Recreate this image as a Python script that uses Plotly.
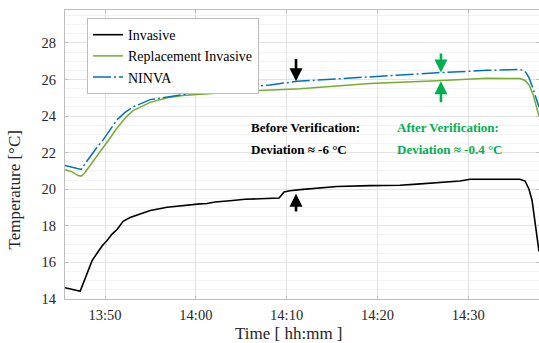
import plotly.graph_objects as go

DAY = "2020-01-01 "

# Invasive (black)
inv_t = ["13:45:35", "13:46:22", "13:47:02", "13:47:15", "13:47:28", "13:47:48", "13:48:08", "13:48:34",
         "13:49:07", "13:49:40", "13:50:13", "13:50:46", "13:51:19", "13:51:59", "13:52:45", "13:53:31",
         "13:54:58", "13:56:50", "13:58:35", "14:00:28", "14:01:14", "14:02:07", "14:03:46", "14:05:25",
         "14:07:04", "14:08:43", "14:09:10", "14:09:43", "14:10:22", "14:11:29", "14:13:41", "14:15:33",
         "14:19:11", "14:22:29", "14:24:22", "14:26:53", "14:29:06", "14:30:12", "14:33:30", "14:35:42",
         "14:36:16", "14:36:42", "14:37:02", "14:37:28", "14:37:48"]
inv_v = [14.62, 14.55, 14.45, 14.42, 14.7, 15.1, 15.6, 16.1,
         16.5, 16.9, 17.2, 17.55, 17.8, 18.25, 18.45, 18.6,
         18.84, 19.02, 19.12, 19.2, 19.22, 19.3, 19.37, 19.45,
         19.48, 19.5, 19.52, 19.85, 19.92, 19.98, 20.05, 20.15,
         20.2, 20.22, 20.28, 20.35, 20.45, 20.55, 20.56, 20.55,
         20.45, 20.0, 19.4, 17.8, 16.6]

# Replacement Invasive (green)
rep_t = ["13:45:35", "13:46:22", "13:47:02", "13:47:22", "13:47:41", "13:48:21", "13:49:07", "13:49:40",
         "13:50:33", "13:51:19", "13:52:25", "13:53:05", "13:54:58", "13:56:50", "13:58:35", "14:00:28",
         "14:03:46", "14:07:04", "14:11:29", "14:19:11", "14:26:34", "14:32:04", "14:35:42", "14:36:16",
         "14:36:42", "14:37:08", "14:37:28", "14:37:48"]
rep_v = [21.07, 20.95, 20.75, 20.72, 20.85, 21.3, 21.8, 22.15,
         22.8, 23.35, 24.0, 24.3, 24.75, 25.0, 25.12, 25.2,
         25.32, 25.4, 25.5, 25.78, 25.93, 26.07, 26.05, 25.95,
         25.7, 25.2, 24.6, 24.0]

# NINVA (blue)
nin_t = ["13:45:35", "13:46:22", "13:47:02", "13:47:22", "13:47:48", "13:48:21", "13:49:07", "13:49:47",
         "13:50:33", "13:51:19", "13:52:12", "13:53:05", "13:54:58", "13:56:50", "13:58:35", "14:02:20",
         "14:08:10", "14:11:09", "14:19:11", "14:26:34", "14:32:04", "14:35:42", "14:36:16", "14:36:42",
         "14:37:08", "14:37:28", "14:37:48"]
nin_v = [21.3, 21.2, 21.1, 21.08, 21.4, 21.8, 22.3, 22.7,
         23.25, 23.8, 24.2, 24.5, 24.9, 25.05, 25.18, 25.45,
         25.7, 25.9, 26.15, 26.37, 26.5, 26.55, 26.45, 26.1,
         25.5, 25.0, 24.5]

x_ticks = ["13:50", "14:00", "14:10", "14:20", "14:30"]
y_ticks = [14, 16, 18, 20, 22, 24, 26, 28]

FONT = "Liberation Serif"
GREEN_TXT = "#00b050"

fig = go.Figure()
fig.add_trace(go.Scatter(x=[DAY + t for t in inv_t], y=inv_v, mode="lines", name="Invasive",
                         line=dict(color="#000000", width=1.6)))
fig.add_trace(go.Scatter(x=[DAY + t for t in rep_t], y=rep_v, mode="lines", name="Replacement Invasive",
                         line=dict(color="#77ac30", width=1.5)))
fig.add_trace(go.Scatter(x=[DAY + t for t in nin_t], y=nin_v, mode="lines", name="NINVA",
                         line=dict(color="#0072bd", width=1.5, dash="18px,3px,2px,3px")))

def arrow(t, y_tip, y_tail, color):
    fig.add_annotation(x=DAY + t, y=y_tip, ax=DAY + t, ay=y_tail, xref="x", yref="y",
                       axref="x", ayref="y", showarrow=True, arrowhead=2, arrowsize=1,
                       arrowwidth=2.6, arrowcolor=color, text="")

arrow("14:11:02", 25.9, 27.2, "#000000")
arrow("14:11:02", 19.75, 18.7, "#000000")
arrow("14:27:00", 26.38, 27.5, GREEN_TXT)
arrow("14:27:00", 25.9, 24.68, GREEN_TXT)

def label(t, y, text, color):
    fig.add_annotation(x=DAY + t, y=y, xref="x", yref="y", text="<b>" + text + "</b>",
                       showarrow=False, xanchor="left", yanchor="middle",
                       font=dict(family=FONT, size=13, color=color))

label("14:05:52", 23.37, "Before Verification:", "#000000")
label("14:05:52", 22.2, "Deviation ≈ -6 °C", "#000000")
label("14:21:56", 23.37, "After Verification:", GREEN_TXT)
label("14:21:56", 22.2, "Deviation ≈ -0.4 °C", GREEN_TXT)

# Axis titles
fig.add_annotation(text="Time [ hh:mm ]", xref="paper", yref="paper", x=0.4726, y=-0.12,
                   showarrow=False, xanchor="center", yanchor="middle", borderpad=0,
                   font=dict(family=FONT, size=17, color="#262626"))
fig.add_annotation(text="Temperature [°C]", xref="paper", yref="paper", x=-0.1076, y=0.379,
                   showarrow=False, xanchor="center", yanchor="middle", textangle=-90,
                   font=dict(family=FONT, size=17, color="#262626"))

fig.update_xaxes(range=[DAY + "13:45:35", DAY + "14:37:48"],
                 tickvals=[DAY + t for t in x_ticks], ticktext=x_ticks,
                 showgrid=True, gridcolor="#e3e3e3", gridwidth=1,
                 showline=True, linecolor="#bdbdbd", linewidth=1, mirror="ticks",
                 ticks="inside", ticklen=3, tickcolor="#bdbdbd",
                 tickfont=dict(family=FONT, size=14.5, color="#262626"),
                 ticklabelstandoff=3, zeroline=False)
fig.update_yaxes(range=[14, 29.8], tickvals=y_ticks,
                 showgrid=True, gridcolor="#e3e3e3", gridwidth=1,
                 minor=dict(dtick=0.5, showgrid=True, gridcolor="#f3f3f3", gridwidth=1),
                 showline=True, linecolor="#bdbdbd", linewidth=1, mirror="ticks",
                 ticks="inside", ticklen=3, tickcolor="#bdbdbd",
                 tickfont=dict(family=FONT, size=14.5, color="#262626"),
                 ticklabelstandoff=5, zeroline=False)

fig.update_layout(width=539, height=343,
                  margin=dict(l=65, r=0, t=10, b=44),
                  paper_bgcolor="white", plot_bgcolor="white",
                  showlegend=True,
                  legend=dict(x=0.0464, y=0.972, xanchor="left", yanchor="top",
                              bgcolor="white", bordercolor="#bdbdbd", borderwidth=1,
                              font=dict(family=FONT, size=14, color="#000000"),
                              tracegroupgap=0, itemwidth=30),
                  font=dict(family=FONT))

fig.write_html("out.html", config={"displayModeBar": False},
               post_script="document.body.style.margin='0';document.body.style.overflow='hidden';")
